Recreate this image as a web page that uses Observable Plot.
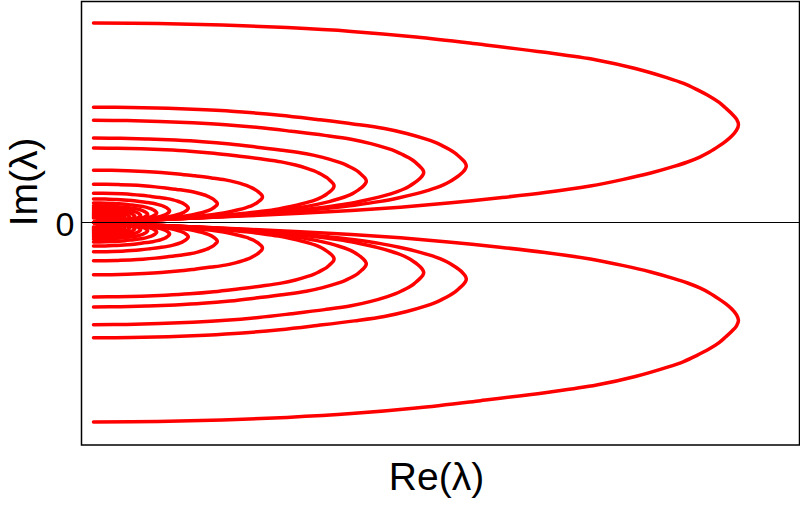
<!DOCTYPE html>
<html><head><meta charset="utf-8">
<script src="https://cdn.jsdelivr.net/npm/d3@7"></script>
<script src="https://cdn.jsdelivr.net/npm/@observablehq/plot@0.6"></script>
<style>body{margin:0;background:#fff;} svg{display:block;}</style>
</head><body><div id="chart"></div>
<script>
// Base shape of the largest eigenvalue curve (upper half):
// from its start at Re=0 on the upper side, round the tip, back to the real axis.
const baseRe = [0, 0.10, 0.20, 0.30, 0.40, 0.50, 0.60, 0.70, 0.78, 0.84, 0.89, 0.915, 0.935, 0.955, 0.97, 0.98, 0.99, 0.997, 1.0,
                0.997, 0.99, 0.98, 0.97, 0.955, 0.94, 0.92, 0.90, 0.864, 0.82, 0.77, 0.70, 0.63, 0.55, 0.476, 0.40, 0.321, 0.24, 0.166, 0.10, 0.05, 0];
const baseIm = [1.0, 0.998, 0.99, 0.977, 0.958, 0.93, 0.893, 0.853, 0.815, 0.772, 0.725, 0.697, 0.667, 0.633, 0.602, 0.574, 0.544, 0.518, 0.49,
                0.463, 0.435, 0.407, 0.384, 0.353, 0.328, 0.302, 0.281, 0.248, 0.215, 0.183, 0.15, 0.124, 0.098, 0.077, 0.06, 0.046, 0.034, 0.024, 0.015, 0.007, 0];
// Size of each curve relative to the largest (the curves are similar in shape)
const curveScales = [1, 0.578, 0.512, 0.423, 0.373, 0.262, 0.192, 0.147, 0.118, 0.098, 0.084, 0.073, 0.064, 0.056, 0.049, 0.043, 0.037, 0.032, 0.027, 0.022];
const halves = [1, -1];
const yTicks = [0];
const xLabel = "Re(λ)";
const yLabel = "Im(λ)";

const rows = [];
curveScales.forEach((s, k) => {
  halves.forEach(h => {
    baseRe.forEach((r, i) => {
      rows.push({curve: k + "_" + h, re: s * r, im: h * s * baseIm[i]});
    });
  });
});

const font = "'Liberation Sans', Arial, Helvetica, sans-serif";
const chart = Plot.plot({
  width: 800,
  height: 505,
  marginLeft: 81,
  marginRight: 1,
  marginTop: 1,
  marginBottom: 60.5,
  style: {fontFamily: font, background: "#fff", color: "#000"},
  x: {domain: [-0.0186, 1.0946], axis: null},
  y: {domain: [-1.1153, 1.1078], axis: null},
  marks: [
    Plot.line(rows, {x: "re", y: "im", z: "curve", stroke: "#ff0000", strokeWidth: 3.5, curve: "catmull-rom"}),
    Plot.ruleY(yTicks, {stroke: "#000", strokeWidth: 1.2}),
    Plot.frame({stroke: "#000", strokeWidth: 1.5}),
    Plot.text(yTicks, {y: d => d, frameAnchor: "left", dx: -7, dy: 3, textAnchor: "end", text: d => String(d), fontSize: 34, fill: "#000"}),
    Plot.text([yLabel], {frameAnchor: "left", dx: -57, dy: 3, rotate: -90, text: d => d, fontSize: 39, fill: "#000"}),
    Plot.text([xLabel], {frameAnchor: "bottom", dy: 45, dx: -4, text: d => d, fontSize: 39, fill: "#000"})
  ]
});
document.getElementById("chart").appendChild(chart);
</script>
</body></html>
